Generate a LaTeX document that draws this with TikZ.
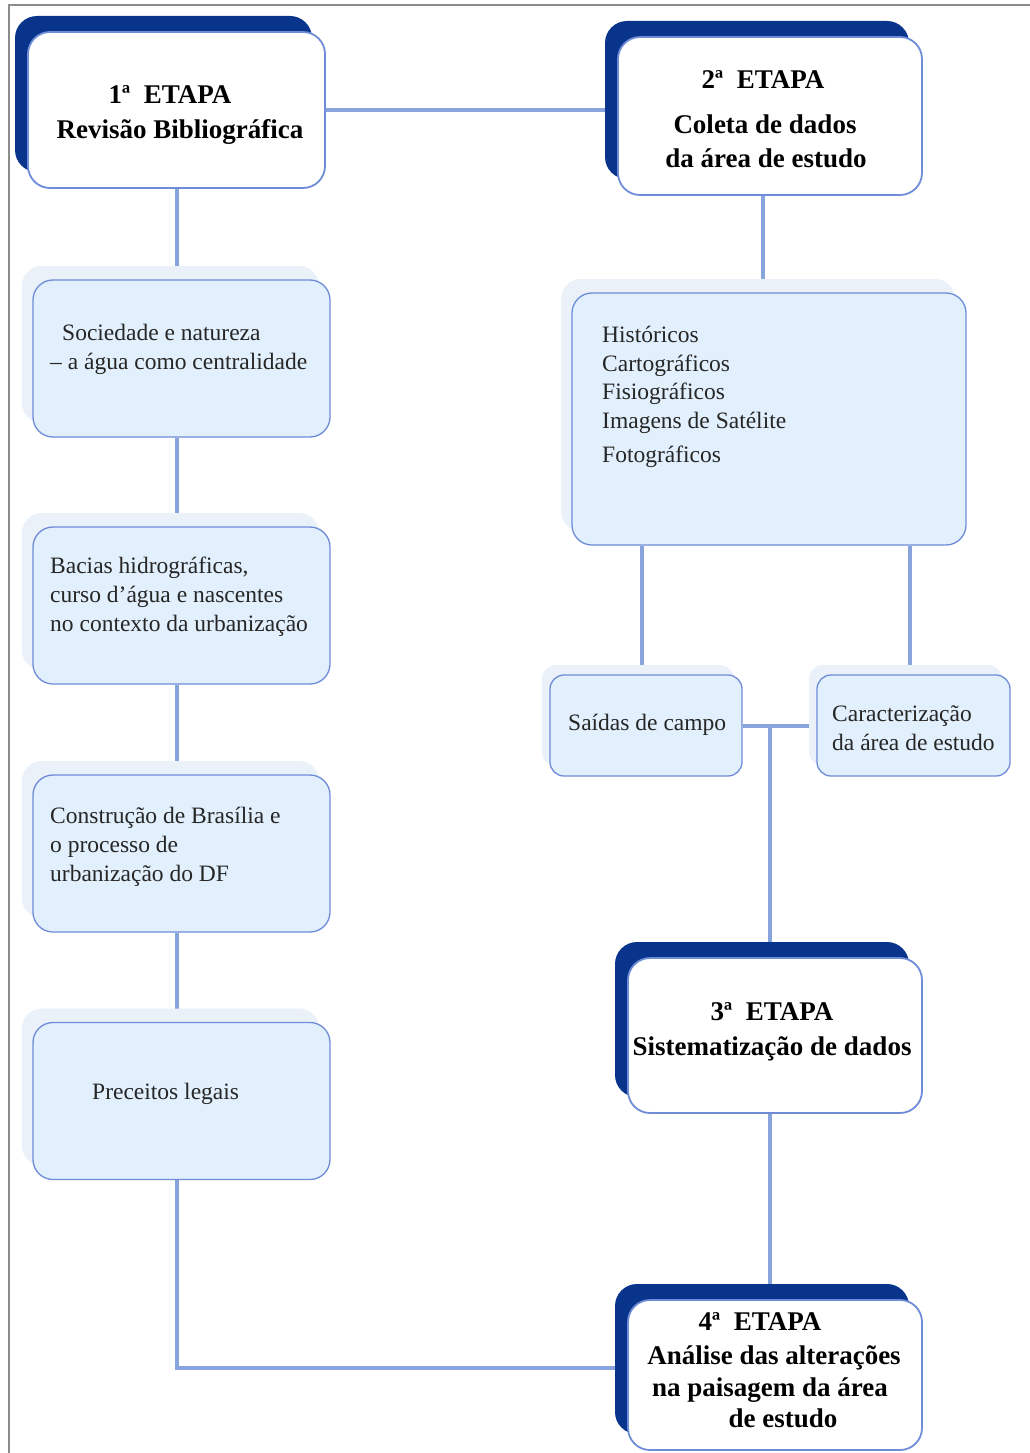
\documentclass[tikz,border=0pt]{standalone}
\usepackage{fontspec}
\setmainfont{Liberation Serif}
\usetikzlibrary{shadows,backgrounds}
\definecolor{dkblue}{RGB}{8,52,140}
\definecolor{edgeblue}{RGB}{110,140,215}
\definecolor{lineblue}{RGB}{135,165,220}
\definecolor{lightfill}{RGB}{226,239,252}
\definecolor{lightshadow}{RGB}{234,241,249}
\definecolor{framegray}{RGB}{140,140,140}
\tikzset{
  stagebox/.style={draw=edgeblue, line width=1.8pt, fill=white, rounded corners=22pt,
    inner sep=0pt, general shadow={fill=dkblue, shadow xshift=-13pt, shadow yshift=16pt}},
  topicbox/.style={draw=edgeblue, line width=1.3pt, fill=lightfill, rounded corners=20pt,
    inner sep=0pt, general shadow={fill=lightshadow, shadow xshift=-11pt, shadow yshift=14pt}},
  smallbox/.style={draw=edgeblue, line width=1.3pt, fill=lightfill, rounded corners=14pt,
    inner sep=0pt, general shadow={fill=lightshadow, shadow xshift=-8pt, shadow yshift=10pt}},
  link/.style={draw=lineblue, line width=4pt},
  stagetxt/.style={inner sep=0pt, anchor=base, font=\fontsize{27}{33}\selectfont\bfseries, text=black},
  bodytxt/.style={inner sep=0pt, anchor=base west, font=\fontsize{23.5}{29}\selectfont, text=black!85},
}
\begin{document}
\begin{tikzpicture}[x=1pt,y=-1pt]
\useasboundingbox (0,0) rectangle (1030,1453);

% stage boxes
\node[stagebox, minimum width=297pt, minimum height=156pt] (b1) at (176.5,110) {};
\node[stagebox, minimum width=304pt, minimum height=158pt] (b2) at (770,116) {};
\node[stagebox, minimum width=294pt, minimum height=155pt] (b3) at (775,1035.5) {};
\node[stagebox, minimum width=294pt, minimum height=150pt] (b4) at (775,1375) {};

% topic boxes
\node[topicbox, minimum width=297pt, minimum height=157pt] (l1) at (181.5,358.5) {};
\node[topicbox, minimum width=297pt, minimum height=157pt] (l2) at (181.5,605.5) {};
\node[topicbox, minimum width=297pt, minimum height=157pt] (l3) at (181.5,853.5) {};
\node[topicbox, minimum width=297pt, minimum height=157pt] (l4) at (181.5,1101) {};
\node[topicbox, minimum width=394pt, minimum height=252pt] (r1) at (769,419) {};
\node[smallbox, minimum width=192pt, minimum height=101pt] (sa) at (646,725.5) {};
\node[smallbox, minimum width=193pt, minimum height=101pt] (ca) at (913.5,725.5) {};
\coordinate (j) at (770,725.5);

% background, frame and connectors
\begin{pgfonlayer}{background}
\fill[white] (0,0) rectangle (1030,1453);
\draw[framegray, line width=1.5pt] (9,1453) -- (9,5) -- (1030,5);
\draw[link] (b1.east) -- (b1.east -| b2.west);
\draw[link] (b1.south) -- (b1.south |- l1.north);
\draw[link] (l1.south -| b1.south) -- (l2.north -| b1.south);
\draw[link] (l2.south -| b1.south) -- (l3.north -| b1.south);
\draw[link] (l3.south -| b1.south) -- (l4.north -| b1.south);
\draw[link] (l4.south -| b1.south) |- ([yshift=7pt]b4.west);
\draw[link] ([xshift=-7pt]b2.south) -- ([xshift=-7pt]b2.south |- r1.north);
\draw[link] ([xshift=-4pt]sa.north) -- ([xshift=-4pt]sa.north |- r1.south);
\draw[link] ([xshift=-4pt]ca.north) -- ([xshift=-4pt]ca.north |- r1.south);
\draw[link] (sa.east) -- (ca.west);
\draw[link] (j) -- (j |- b3.north);
\draw[link] ([xshift=-5pt]b3.south) -- ([xshift=-5pt]b4.north);
\end{pgfonlayer}

% stage texts
\node[stagetxt] (t1a) at (170,104) {1ª~ ETAPA};
\node[stagetxt] (t1b) at (180,139) {Revisão Bibliográfica};
\node[stagetxt] (t2a) at (763,89) {2ª~ ETAPA};
\node[stagetxt] (t2b) at (765,133) {Coleta de dados};
\node[stagetxt] (t2c) at (766,167) {da área de estudo};
\node[stagetxt] (t3a) at (772,1020) {3ª~ ETAPA};
\node[stagetxt] (t3b) at (772,1055) {Sistematização de dados};
\node[stagetxt] (t4a) at (760,1330) {4ª~ ETAPA};
\node[stagetxt] (t4b) at (774,1364) {Análise das alterações};
\node[stagetxt] (t4c) at (770,1396) {na paisagem da área};
\node[stagetxt] (t4d) at (783,1427) {de estudo};

% body texts
\node[bodytxt] (x1a) at (62,340) {Sociedade e natureza};
\node[bodytxt] (x1b) at (50,369) {– a água como centralidade};
\node[bodytxt] (x2a) at (50,573) {Bacias hidrográficas,};
\node[bodytxt] (x2b) at (50,602) {curso d’água e nascentes};
\node[bodytxt] (x2c) at (50,631) {no contexto da urbanização};
\node[bodytxt] (x3a) at (50,823) {Construção de Brasília e};
\node[bodytxt] (x3b) at (50,852) {o processo de};
\node[bodytxt] (x3c) at (50,881) {urbanização do DF};
\node[bodytxt] (x4a) at (92,1099) {Preceitos legais};
\node[bodytxt] (r1a) at (602,342) {Históricos};
\node[bodytxt] (r1b) at (602,371) {Cartográficos};
\node[bodytxt] (r1c) at (602,399) {Fisiográficos};
\node[bodytxt] (r1d) at (602,428) {Imagens de Satélite};
\node[bodytxt] (r1e) at (602,462) {Fotográficos};
\node[bodytxt] (sat) at (568,730) {Saídas de campo};
\node[bodytxt] (caa) at (832,721) {Caracterização};
\node[bodytxt] (cab) at (832,750) {da área de estudo};
\end{tikzpicture}
\end{document}
